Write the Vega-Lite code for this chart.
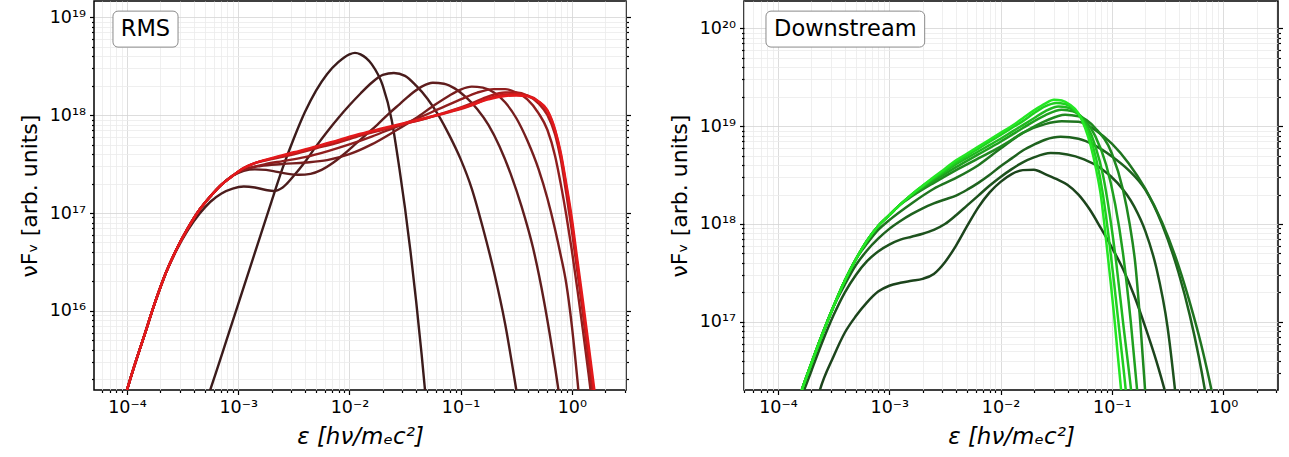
{
"$schema": "https://vega.github.io/schema/vega-lite/v6.json",
"padding": {"left": 17, "top": 0, "right": 2, "bottom": 2},
"spacing": 118,
"bounds": "flush",
"resolve": {"scale": {"color": "independent", "x": "independent", "y": "independent"}},
"config": {
  "font": "DejaVu Sans",
  "view": {"stroke": "#000000", "strokeWidth": 1.5},
  "axis": {"labelFont": "DejaVu Sans", "titleFont": "DejaVu Sans", "labelColor": "#000000", "titleColor": "#000000", "tickColor": "#000000", "domain": false, "labelFontSize": 17.5, "titleFontSize": 22, "titleFontWeight": "normal"}
},
"datasets": {
  "lab1": [{"label": "RMS"}],
  "lab2": [{"label": "Downstream"}],
  "rms": [
{"c":"C1","x":5.012e-4,"y":1.072e15},{"c":"C1","x":6.310e-4,"y":2.344e15},{"c":"C1","x":7.943e-4,"y":5.248e15},{"c":"C1","x":1e-3,"y":1.175e16},{"c":"C1","x":1.259e-3,"y":2.630e16},{"c":"C1","x":1.585e-3,"y":5.888e16},{"c":"C1","x":1.995e-3,"y":1.318e17},{"c":"C1","x":2.512e-3,"y":2.884e17},{"c":"C1","x":3.162e-3,"y":5.754e17},{"c":"C1","x":3.981e-3,"y":1.072e18},{"c":"C1","x":5.012e-3,"y":1.778e18},{"c":"C1","x":6.310e-3,"y":2.630e18},{"c":"C1","x":7.943e-3,"y":3.467e18},{"c":"C1","x":1e-2,"y":4.169e18},{"c":"C1","x":1.122e-2,"y":4.315e18},{"c":"C1","x":1.259e-2,"y":4.169e18},{"c":"C1","x":1.585e-2,"y":3.311e18},{"c":"C1","x":1.995e-2,"y":1.995e18},{"c":"C1","x":2.399e-2,"y":8.913e17},{"c":"C1","x":2.818e-2,"y":2.818e17},{"c":"C1","x":3.162e-2,"y":1.122e17},{"c":"C1","x":3.548e-2,"y":3.981e16},{"c":"C1","x":3.981e-2,"y":1.259e16},{"c":"C1","x":4.467e-2,"y":3.548e15},{"c":"C1","x":5.012e-2,"y":8.913e14},
{"c":"C2","x":8.913e-5,"y":1.0e15},{"c":"C2","x":1.122e-4,"y":2.399e15},{"c":"C2","x":1.413e-4,"y":5.370e15},{"c":"C2","x":1.778e-4,"y":1.202e16},{"c":"C2","x":2.239e-4,"y":2.455e16},{"c":"C2","x":2.818e-4,"y":4.266e16},{"c":"C2","x":3.548e-4,"y":6.761e16},{"c":"C2","x":4.467e-4,"y":9.772e16},{"c":"C2","x":5.623e-4,"y":1.303e17},{"c":"C2","x":7.079e-4,"y":1.585e17},{"c":"C2","x":8.913e-4,"y":1.778e17},{"c":"C2","x":1.122e-3,"y":1.862e17},{"c":"C2","x":1.413e-3,"y":1.820e17},{"c":"C2","x":1.778e-3,"y":1.718e17},{"c":"C2","x":2.089e-3,"y":1.679e17},{"c":"C2","x":2.512e-3,"y":1.820e17},{"c":"C2","x":3.162e-3,"y":2.399e17},{"c":"C2","x":3.981e-3,"y":3.311e17},{"c":"C2","x":5.012e-3,"y":4.786e17},{"c":"C2","x":6.310e-3,"y":6.761e17},{"c":"C2","x":7.943e-3,"y":9.333e17},{"c":"C2","x":1e-2,"y":1.259e18},{"c":"C2","x":1.259e-2,"y":1.660e18},{"c":"C2","x":1.585e-2,"y":2.138e18},{"c":"C2","x":1.995e-2,"y":2.570e18},{"c":"C2","x":2.512e-2,"y":2.692e18},{"c":"C2","x":3.162e-2,"y":2.512e18},{"c":"C2","x":3.981e-2,"y":1.995e18},{"c":"C2","x":5.012e-2,"y":1.479e18},{"c":"C2","x":6.310e-2,"y":1e18},{"c":"C2","x":7.943e-2,"y":6.166e17},{"c":"C2","x":0.1,"y":3.548e17},{"c":"C2","x":0.1259,"y":1.778e17},{"c":"C2","x":0.1585,"y":7.079e16},{"c":"C2","x":0.1995,"y":2.512e16},{"c":"C2","x":0.2512,"y":7.413e15},{"c":"C2","x":0.3162,"y":1.585e15},{"c":"C2","x":0.3548,"y":7.079e14},
{"c":"C3","x":8.913e-5,"y":1.0e15},{"c":"C3","x":1.122e-4,"y":2.399e15},{"c":"C3","x":1.413e-4,"y":5.370e15},{"c":"C3","x":1.778e-4,"y":1.202e16},{"c":"C3","x":2.239e-4,"y":2.455e16},{"c":"C3","x":2.818e-4,"y":4.365e16},{"c":"C3","x":3.548e-4,"y":7.079e16},{"c":"C3","x":4.467e-4,"y":1.072e17},{"c":"C3","x":5.623e-4,"y":1.479e17},{"c":"C3","x":7.079e-4,"y":1.950e17},{"c":"C3","x":8.913e-4,"y":2.399e17},{"c":"C3","x":1.122e-3,"y":2.692e17},{"c":"C3","x":1.413e-3,"y":2.786e17},{"c":"C3","x":1.778e-3,"y":2.754e17},{"c":"C3","x":2.239e-3,"y":2.630e17},{"c":"C3","x":2.818e-3,"y":2.512e17},{"c":"C3","x":3.548e-3,"y":2.455e17},{"c":"C3","x":4.467e-3,"y":2.512e17},{"c":"C3","x":5.623e-3,"y":2.754e17},{"c":"C3","x":7.079e-3,"y":3.236e17},{"c":"C3","x":8.913e-3,"y":3.981e17},{"c":"C3","x":1.122e-2,"y":5.012e17},{"c":"C3","x":1.413e-2,"y":6.310e17},{"c":"C3","x":1.778e-2,"y":7.943e17},{"c":"C3","x":2.239e-2,"y":1.023e18},{"c":"C3","x":2.818e-2,"y":1.288e18},{"c":"C3","x":3.548e-2,"y":1.622e18},{"c":"C3","x":4.467e-2,"y":1.950e18},{"c":"C3","x":5.623e-2,"y":2.138e18},{"c":"C3","x":7.079e-2,"y":2.089e18},{"c":"C3","x":8.913e-2,"y":1.862e18},{"c":"C3","x":0.1122,"y":1.514e18},{"c":"C3","x":0.1413,"y":1.148e18},{"c":"C3","x":0.1778,"y":7.943e17},{"c":"C3","x":0.2239,"y":4.786e17},{"c":"C3","x":0.2818,"y":2.512e17},{"c":"C3","x":0.3548,"y":1.148e17},{"c":"C3","x":0.4467,"y":4.467e16},{"c":"C3","x":0.5623,"y":1.259e16},{"c":"C3","x":0.7079,"y":2.630e15},{"c":"C3","x":0.7943,"y":1.096e15},
{"c":"C4","x":8.913e-5,"y":1.0e15},{"c":"C4","x":1.122e-4,"y":2.399e15},{"c":"C4","x":1.413e-4,"y":5.370e15},{"c":"C4","x":1.778e-4,"y":1.202e16},{"c":"C4","x":2.239e-4,"y":2.455e16},{"c":"C4","x":2.818e-4,"y":4.365e16},{"c":"C4","x":3.548e-4,"y":7.079e16},{"c":"C4","x":4.467e-4,"y":1.072e17},{"c":"C4","x":5.623e-4,"y":1.479e17},{"c":"C4","x":7.079e-4,"y":1.950e17},{"c":"C4","x":8.913e-4,"y":2.399e17},{"c":"C4","x":1.122e-3,"y":2.754e17},{"c":"C4","x":1.585e-3,"y":3.020e17},{"c":"C4","x":2.512e-3,"y":3.162e17},{"c":"C4","x":3.981e-3,"y":3.273e17},{"c":"C4","x":6.310e-3,"y":3.467e17},{"c":"C4","x":1e-2,"y":3.981e17},{"c":"C4","x":1.585e-2,"y":5.012e17},{"c":"C4","x":2.512e-2,"y":6.761e17},{"c":"C4","x":3.981e-2,"y":9.333e17},{"c":"C4","x":5.623e-2,"y":1.230e18},{"c":"C4","x":7.943e-2,"y":1.585e18},{"c":"C4","x":0.1,"y":1.820e18},{"c":"C4","x":0.1259,"y":1.950e18},{"c":"C4","x":0.1585,"y":1.905e18},{"c":"C4","x":0.1995,"y":1.698e18},{"c":"C4","x":0.2512,"y":1.349e18},{"c":"C4","x":0.3162,"y":9.333e17},{"c":"C4","x":0.3981,"y":5.495e17},{"c":"C4","x":0.5012,"y":2.818e17},{"c":"C4","x":0.6026,"y":1.413e17},{"c":"C4","x":0.7079,"y":6.761e16},{"c":"C4","x":0.7943,"y":3.715e16},{"c":"C4","x":0.8913,"y":1.905e16},{"c":"C4","x":1,"y":7.079e15},{"c":"C4","x":1.122,"y":1.995e15},{"c":"C4","x":1.259,"y":5.012e14},
{"c":"C5","x":8.913e-5,"y":1.0e15},{"c":"C5","x":1.122e-4,"y":2.399e15},{"c":"C5","x":1.413e-4,"y":5.370e15},{"c":"C5","x":1.778e-4,"y":1.202e16},{"c":"C5","x":2.239e-4,"y":2.455e16},{"c":"C5","x":2.818e-4,"y":4.365e16},{"c":"C5","x":3.548e-4,"y":7.079e16},{"c":"C5","x":4.467e-4,"y":1.072e17},{"c":"C5","x":5.623e-4,"y":1.479e17},{"c":"C5","x":7.079e-4,"y":1.950e17},{"c":"C5","x":8.913e-4,"y":2.399e17},{"c":"C5","x":1e-3,"y":2.630e17},{"c":"C5","x":1.259e-3,"y":2.884e17},{"c":"C5","x":1.778e-3,"y":3.162e17},{"c":"C5","x":2.512e-3,"y":3.388e17},{"c":"C5","x":3.981e-3,"y":3.715e17},{"c":"C5","x":6.310e-3,"y":4.266e17},{"c":"C5","x":1e-2,"y":5.012e17},{"c":"C5","x":1.585e-2,"y":6.026e17},{"c":"C5","x":2.512e-2,"y":7.413e17},{"c":"C5","x":3.981e-2,"y":9.120e17},{"c":"C5","x":6.310e-2,"y":1.148e18},{"c":"C5","x":0.1,"y":1.445e18},{"c":"C5","x":0.1413,"y":1.698e18},{"c":"C5","x":0.1995,"y":1.841e18},{"c":"C5","x":0.2512,"y":1.841e18},{"c":"C5","x":0.3162,"y":1.698e18},{"c":"C5","x":0.3981,"y":1.445e18},{"c":"C5","x":0.5012,"y":1.047e18},{"c":"C5","x":0.6026,"y":7.079e17},{"c":"C5","x":0.7079,"y":3.802e17},{"c":"C5","x":0.7943,"y":1.995e17},{"c":"C5","x":0.8913,"y":9.550e16},{"c":"C5","x":1,"y":4.169e16},{"c":"C5","x":1.122,"y":1.660e16},{"c":"C5","x":1.259,"y":6.310e15},{"c":"C5","x":1.413,"y":2.291e15},{"c":"C5","x":1.585,"y":7.943e14},
{"c":"C6","x":8.913e-5,"y":1.0e15},{"c":"C6","x":1.122e-4,"y":2.399e15},{"c":"C6","x":1.413e-4,"y":5.370e15},{"c":"C6","x":1.778e-4,"y":1.202e16},{"c":"C6","x":2.239e-4,"y":2.455e16},{"c":"C6","x":2.818e-4,"y":4.365e16},{"c":"C6","x":3.548e-4,"y":7.079e16},{"c":"C6","x":4.467e-4,"y":1.072e17},{"c":"C6","x":5.623e-4,"y":1.479e17},{"c":"C6","x":7.079e-4,"y":1.950e17},{"c":"C6","x":8.913e-4,"y":2.399e17},{"c":"C6","x":1.122e-3,"y":2.884e17},{"c":"C6","x":1.413e-3,"y":3.236e17},{"c":"C6","x":1.995e-3,"y":3.548e17},{"c":"C6","x":3.162e-3,"y":3.981e17},{"c":"C6","x":5.012e-3,"y":4.571e17},{"c":"C6","x":7.943e-3,"y":5.248e17},{"c":"C6","x":1.259e-2,"y":6.166e17},{"c":"C6","x":1.995e-2,"y":7.079e17},{"c":"C6","x":3.162e-2,"y":8.128e17},{"c":"C6","x":5.012e-2,"y":9.333e17},{"c":"C6","x":7.943e-2,"y":1.096e18},{"c":"C6","x":0.1259,"y":1.318e18},{"c":"C6","x":0.1778,"y":1.549e18},{"c":"C6","x":0.2512,"y":1.698e18},{"c":"C6","x":0.3162,"y":1.698e18},{"c":"C6","x":0.3981,"y":1.585e18},{"c":"C6","x":0.5012,"y":1.318e18},{"c":"C6","x":0.6026,"y":1e18},{"c":"C6","x":0.7079,"y":6.310e17},{"c":"C6","x":0.7943,"y":3.548e17},{"c":"C6","x":0.8913,"y":1.585e17},{"c":"C6","x":1,"y":6.607e16},{"c":"C6","x":1.122,"y":2.512e16},{"c":"C6","x":1.259,"y":9.333e15},{"c":"C6","x":1.413,"y":3.162e15},{"c":"C6","x":1.585,"y":1.122e15},
{"c":"C7","x":8.913e-5,"y":1.0e15},{"c":"C7","x":1.122e-4,"y":2.399e15},{"c":"C7","x":1.413e-4,"y":5.370e15},{"c":"C7","x":1.778e-4,"y":1.202e16},{"c":"C7","x":2.239e-4,"y":2.455e16},{"c":"C7","x":2.818e-4,"y":4.365e16},{"c":"C7","x":3.548e-4,"y":7.079e16},{"c":"C7","x":4.467e-4,"y":1.072e17},{"c":"C7","x":5.623e-4,"y":1.479e17},{"c":"C7","x":7.079e-4,"y":1.950e17},{"c":"C7","x":8.913e-4,"y":2.399e17},{"c":"C7","x":1.122e-3,"y":2.884e17},{"c":"C7","x":1.413e-3,"y":3.236e17},{"c":"C7","x":1.995e-3,"y":3.589e17},{"c":"C7","x":3.162e-3,"y":4.074e17},{"c":"C7","x":5.012e-3,"y":4.677e17},{"c":"C7","x":7.943e-3,"y":5.433e17},{"c":"C7","x":1.259e-2,"y":6.310e17},{"c":"C7","x":1.995e-2,"y":7.161e17},{"c":"C7","x":3.162e-2,"y":8.128e17},{"c":"C7","x":5.012e-2,"y":9.333e17},{"c":"C7","x":7.943e-2,"y":1.072e18},{"c":"C7","x":0.1259,"y":1.259e18},{"c":"C7","x":0.1778,"y":1.479e18},{"c":"C7","x":0.2512,"y":1.622e18},{"c":"C7","x":0.3162,"y":1.641e18},{"c":"C7","x":0.3981,"y":1.585e18},{"c":"C7","x":0.5012,"y":1.380e18},{"c":"C7","x":0.6026,"y":1.096e18},{"c":"C7","x":0.7079,"y":6.918e17},{"c":"C7","x":0.7943,"y":3.981e17},{"c":"C7","x":0.8913,"y":1.862e17},{"c":"C7","x":1,"y":7.943e16},{"c":"C7","x":1.122,"y":2.951e16},{"c":"C7","x":1.259,"y":1.096e16},{"c":"C7","x":1.413,"y":3.981e15},{"c":"C7","x":1.585,"y":1.413e15},{"c":"C7","x":1.778,"y":4.5e14},
{"c":"C8","x":8.913e-5,"y":1.0e15},{"c":"C8","x":1.122e-4,"y":2.399e15},{"c":"C8","x":1.413e-4,"y":5.370e15},{"c":"C8","x":1.778e-4,"y":1.202e16},{"c":"C8","x":2.239e-4,"y":2.455e16},{"c":"C8","x":2.818e-4,"y":4.365e16},{"c":"C8","x":3.548e-4,"y":7.079e16},{"c":"C8","x":4.467e-4,"y":1.072e17},{"c":"C8","x":5.623e-4,"y":1.479e17},{"c":"C8","x":7.079e-4,"y":1.950e17},{"c":"C8","x":8.913e-4,"y":2.399e17},{"c":"C8","x":1.122e-3,"y":2.884e17},{"c":"C8","x":1.413e-3,"y":3.236e17},{"c":"C8","x":1.995e-3,"y":3.631e17},{"c":"C8","x":3.162e-3,"y":4.169e17},{"c":"C8","x":5.012e-3,"y":4.786e17},{"c":"C8","x":7.943e-3,"y":5.559e17},{"c":"C8","x":1.259e-2,"y":6.457e17},{"c":"C8","x":1.995e-2,"y":7.328e17},{"c":"C8","x":3.162e-2,"y":8.318e17},{"c":"C8","x":5.012e-2,"y":9.441e17},{"c":"C8","x":7.943e-2,"y":1.084e18},{"c":"C8","x":0.1259,"y":1.274e18},{"c":"C8","x":0.1778,"y":1.445e18},{"c":"C8","x":0.2512,"y":1.567e18},{"c":"C8","x":0.3162,"y":1.585e18},{"c":"C8","x":0.3981,"y":1.549e18},{"c":"C8","x":0.5012,"y":1.380e18},{"c":"C8","x":0.6026,"y":1.122e18},{"c":"C8","x":0.7079,"y":7.079e17},{"c":"C8","x":0.7943,"y":4.169e17},{"c":"C8","x":0.8913,"y":1.995e17},{"c":"C8","x":1,"y":8.913e16},{"c":"C8","x":1.122,"y":3.311e16},{"c":"C8","x":1.259,"y":1.259e16},{"c":"C8","x":1.413,"y":4.571e15},{"c":"C8","x":1.585,"y":1.660e15},{"c":"C8","x":1.778,"y":6.310e14}
  ],
  "down": [
{"c":"G1","x":1.995e-4,"y":8.913e15},{"c":"G1","x":2.344e-4,"y":1.905e16},{"c":"G1","x":3.162e-4,"y":4.467e16},{"c":"G1","x":3.981e-4,"y":7.762e16},{"c":"G1","x":5.012e-4,"y":1.148e17},{"c":"G1","x":6.310e-4,"y":1.585e17},{"c":"G1","x":7.943e-4,"y":2.042e17},{"c":"G1","x":1e-3,"y":2.344e17},{"c":"G1","x":1.259e-3,"y":2.512e17},{"c":"G1","x":1.585e-3,"y":2.630e17},{"c":"G1","x":1.995e-3,"y":2.754e17},{"c":"G1","x":2.512e-3,"y":3.090e17},{"c":"G1","x":3.162e-3,"y":4.074e17},{"c":"G1","x":3.981e-3,"y":6.026e17},{"c":"G1","x":5.012e-3,"y":9.550e17},{"c":"G1","x":6.310e-3,"y":1.479e18},{"c":"G1","x":7.943e-3,"y":2.089e18},{"c":"G1","x":1e-2,"y":2.692e18},{"c":"G1","x":1.259e-2,"y":3.236e18},{"c":"G1","x":1.585e-2,"y":3.548e18},{"c":"G1","x":1.995e-2,"y":3.589e18},{"c":"G1","x":2.512e-2,"y":3.236e18},{"c":"G1","x":3.162e-2,"y":2.884e18},{"c":"G1","x":3.981e-2,"y":2.512e18},{"c":"G1","x":5.012e-2,"y":1.995e18},{"c":"G1","x":6.310e-2,"y":1.413e18},{"c":"G1","x":7.943e-2,"y":9.120e17},{"c":"G1","x":0.1,"y":5.754e17},{"c":"G1","x":0.1259,"y":3.467e17},{"c":"G1","x":0.1585,"y":1.862e17},{"c":"G1","x":0.1995,"y":8.913e16},{"c":"G1","x":0.2512,"y":3.981e16},{"c":"G1","x":0.3020,"y":1.905e16},{"c":"G1","x":0.3311,"y":1.259e16},
{"c":"G2","x":1.585e-4,"y":1.585e16},{"c":"G2","x":1.995e-4,"y":3.162e16},{"c":"G2","x":2.512e-4,"y":6.310e16},{"c":"G2","x":3.162e-4,"y":1.175e17},{"c":"G2","x":3.981e-4,"y":1.995e17},{"c":"G2","x":5.012e-4,"y":3.020e17},{"c":"G2","x":6.310e-4,"y":4.169e17},{"c":"G2","x":7.943e-4,"y":5.248e17},{"c":"G2","x":1e-3,"y":6.166e17},{"c":"G2","x":1.259e-3,"y":6.918e17},{"c":"G2","x":1.585e-3,"y":7.413e17},{"c":"G2","x":1.995e-3,"y":7.943e17},{"c":"G2","x":2.512e-3,"y":8.710e17},{"c":"G2","x":3.162e-3,"y":1e18},{"c":"G2","x":3.981e-3,"y":1.230e18},{"c":"G2","x":5.012e-3,"y":1.549e18},{"c":"G2","x":6.310e-3,"y":1.950e18},{"c":"G2","x":7.943e-3,"y":2.455e18},{"c":"G2","x":1e-2,"y":3.020e18},{"c":"G2","x":1.259e-2,"y":3.631e18},{"c":"G2","x":1.585e-2,"y":4.266e18},{"c":"G2","x":1.995e-2,"y":4.786e18},{"c":"G2","x":2.818e-2,"y":5.297e18},{"c":"G2","x":3.981e-2,"y":5.129e18},{"c":"G2","x":5.623e-2,"y":4.571e18},{"c":"G2","x":7.943e-2,"y":3.715e18},{"c":"G2","x":0.1122,"y":2.630e18},{"c":"G2","x":0.1585,"y":1.514e18},{"c":"G2","x":0.1995,"y":8.511e17},{"c":"G2","x":0.2512,"y":3.548e17},{"c":"G2","x":0.3162,"y":8.913e16},{"c":"G2","x":0.3715,"y":1.905e16},{"c":"G2","x":0.3981,"y":8.913e15},
{"c":"G3","x":1.413e-4,"y":1.259e16},{"c":"G3","x":1.778e-4,"y":2.630e16},{"c":"G3","x":2.512e-4,"y":7.586e16},{"c":"G3","x":3.162e-4,"y":1.445e17},{"c":"G3","x":3.981e-4,"y":2.399e17},{"c":"G3","x":5.012e-4,"y":3.802e17},{"c":"G3","x":6.310e-4,"y":5.370e17},{"c":"G3","x":7.943e-4,"y":7.079e17},{"c":"G3","x":1e-3,"y":8.913e17},{"c":"G3","x":1.259e-3,"y":1.072e18},{"c":"G3","x":1.585e-3,"y":1.259e18},{"c":"G3","x":1.995e-3,"y":1.445e18},{"c":"G3","x":2.512e-3,"y":1.622e18},{"c":"G3","x":3.162e-3,"y":1.778e18},{"c":"G3","x":3.981e-3,"y":1.950e18},{"c":"G3","x":5.012e-3,"y":2.239e18},{"c":"G3","x":6.310e-3,"y":2.630e18},{"c":"G3","x":7.943e-3,"y":3.162e18},{"c":"G3","x":1e-2,"y":3.890e18},{"c":"G3","x":1.259e-2,"y":4.677e18},{"c":"G3","x":1.585e-2,"y":5.623e18},{"c":"G3","x":1.995e-2,"y":6.457e18},{"c":"G3","x":2.512e-2,"y":7.244e18},{"c":"G3","x":3.467e-2,"y":7.762e18},{"c":"G3","x":5.012e-2,"y":7.413e18},{"c":"G3","x":7.079e-2,"y":6.310e18},{"c":"G3","x":0.1,"y":4.898e18},{"c":"G3","x":0.1413,"y":3.548e18},{"c":"G3","x":0.1995,"y":2.239e18},{"c":"G3","x":0.2818,"y":1e18},{"c":"G3","x":0.3981,"y":3.162e17},{"c":"G3","x":0.5012,"y":1.175e17},{"c":"G3","x":0.6026,"y":4.467e16},{"c":"G3","x":0.6918,"y":1.905e16},{"c":"G3","x":0.7586,"y":1e16},
{"c":"G4","x":1.413e-4,"y":1.259e16},{"c":"G4","x":1.778e-4,"y":2.630e16},{"c":"G4","x":2.512e-4,"y":7.586e16},{"c":"G4","x":3.162e-4,"y":1.445e17},{"c":"G4","x":3.981e-4,"y":2.630e17},{"c":"G4","x":5.012e-4,"y":4.365e17},{"c":"G4","x":6.310e-4,"y":6.310e17},{"c":"G4","x":7.943e-4,"y":8.710e17},{"c":"G4","x":1e-3,"y":1.096e18},{"c":"G4","x":1.585e-3,"y":1.622e18},{"c":"G4","x":2.512e-3,"y":2.291e18},{"c":"G4","x":3.981e-3,"y":2.951e18},{"c":"G4","x":6.310e-3,"y":3.981e18},{"c":"G4","x":1e-2,"y":5.888e18},{"c":"G4","x":1.585e-2,"y":8.511e18},{"c":"G4","x":2.512e-2,"y":1.047e19},{"c":"G4","x":3.548e-2,"y":1.117e19},{"c":"G4","x":5.012e-2,"y":1.109e19},{"c":"G4","x":7.079e-2,"y":9.120e18},{"c":"G4","x":0.1,"y":6.607e18},{"c":"G4","x":0.1413,"y":4.169e18},{"c":"G4","x":0.1995,"y":2.291e18},{"c":"G4","x":0.2818,"y":1.047e18},{"c":"G4","x":0.3981,"y":3.715e17},{"c":"G4","x":0.5012,"y":1.585e17},{"c":"G4","x":0.6310,"y":6.026e16},{"c":"G4","x":0.7943,"y":1.905e16},{"c":"G4","x":0.8913,"y":1e16},
{"c":"G5","x":1.259e-4,"y":8.913e15},{"c":"G5","x":1.413e-4,"y":1.259e16},{"c":"G5","x":1.778e-4,"y":2.630e16},{"c":"G5","x":2.512e-4,"y":7.586e16},{"c":"G5","x":3.162e-4,"y":1.445e17},{"c":"G5","x":3.981e-4,"y":2.630e17},{"c":"G5","x":5.012e-4,"y":4.365e17},{"c":"G5","x":6.310e-4,"y":6.761e17},{"c":"G5","x":7.943e-4,"y":9.550e17},{"c":"G5","x":1e-3,"y":1.230e18},{"c":"G5","x":1.259e-3,"y":1.585e18},{"c":"G5","x":1.585e-3,"y":1.905e18},{"c":"G5","x":2.512e-3,"y":2.630e18},{"c":"G5","x":3.981e-3,"y":3.548e18},{"c":"G5","x":6.310e-3,"y":4.677e18},{"c":"G5","x":1e-2,"y":6.166e18},{"c":"G5","x":1.585e-2,"y":8.511e18},{"c":"G5","x":2.512e-2,"y":1.122e19},{"c":"G5","x":3.802e-2,"y":1.306e19},{"c":"G5","x":5.012e-2,"y":1.259e19},{"c":"G5","x":7.079e-2,"y":9.550e18},{"c":"G5","x":0.1,"y":5.248e18},{"c":"G5","x":0.1259,"y":2.239e18},{"c":"G5","x":0.1445,"y":1e18},{"c":"G5","x":0.1622,"y":3.981e17},{"c":"G5","x":0.1799,"y":1e17},{"c":"G5","x":0.1995,"y":1.905e16},{"c":"G5","x":0.2089,"y":8.913e15},
{"c":"G6","x":1.259e-4,"y":8.913e15},{"c":"G6","x":1.413e-4,"y":1.259e16},{"c":"G6","x":1.778e-4,"y":2.630e16},{"c":"G6","x":2.512e-4,"y":7.586e16},{"c":"G6","x":3.162e-4,"y":1.445e17},{"c":"G6","x":3.981e-4,"y":2.630e17},{"c":"G6","x":5.012e-4,"y":4.365e17},{"c":"G6","x":6.310e-4,"y":6.761e17},{"c":"G6","x":7.943e-4,"y":9.550e17},{"c":"G6","x":1e-3,"y":1.230e18},{"c":"G6","x":1.259e-3,"y":1.585e18},{"c":"G6","x":1.778e-3,"y":2.138e18},{"c":"G6","x":2.512e-3,"y":2.754e18},{"c":"G6","x":3.981e-3,"y":3.802e18},{"c":"G6","x":6.310e-3,"y":5.129e18},{"c":"G6","x":1e-2,"y":6.918e18},{"c":"G6","x":1.585e-2,"y":9.550e18},{"c":"G6","x":2.512e-2,"y":1.288e19},{"c":"G6","x":3.548e-2,"y":1.466e19},{"c":"G6","x":4.467e-2,"y":1.413e19},{"c":"G6","x":5.623e-2,"y":1.175e19},{"c":"G6","x":7.079e-2,"y":7.943e18},{"c":"G6","x":8.913e-2,"y":3.981e18},{"c":"G6","x":0.1072,"y":1.585e18},{"c":"G6","x":0.1259,"y":5.012e17},{"c":"G6","x":0.1479,"y":1e17},{"c":"G6","x":0.1694,"y":1.905e16},{"c":"G6","x":0.1778,"y":1e16},
{"c":"G7","x":1.259e-4,"y":8.913e15},{"c":"G7","x":1.413e-4,"y":1.259e16},{"c":"G7","x":1.778e-4,"y":2.630e16},{"c":"G7","x":2.512e-4,"y":7.586e16},{"c":"G7","x":3.162e-4,"y":1.445e17},{"c":"G7","x":3.981e-4,"y":2.630e17},{"c":"G7","x":5.012e-4,"y":4.365e17},{"c":"G7","x":6.310e-4,"y":6.761e17},{"c":"G7","x":7.943e-4,"y":9.550e17},{"c":"G7","x":1e-3,"y":1.230e18},{"c":"G7","x":1.259e-3,"y":1.585e18},{"c":"G7","x":1.585e-3,"y":1.995e18},{"c":"G7","x":1.995e-3,"y":2.399e18},{"c":"G7","x":2.512e-3,"y":2.884e18},{"c":"G7","x":3.162e-3,"y":3.428e18},{"c":"G7","x":3.981e-3,"y":4.074e18},{"c":"G7","x":5.012e-3,"y":4.732e18},{"c":"G7","x":6.310e-3,"y":5.495e18},{"c":"G7","x":7.943e-3,"y":6.383e18},{"c":"G7","x":1e-2,"y":7.413e18},{"c":"G7","x":1.259e-2,"y":8.710e18},{"c":"G7","x":1.585e-2,"y":1.023e19},{"c":"G7","x":1.995e-2,"y":1.202e19},{"c":"G7","x":2.512e-2,"y":1.413e19},{"c":"G7","x":3.311e-2,"y":1.585e19},{"c":"G7","x":3.981e-2,"y":1.549e19},{"c":"G7","x":5.012e-2,"y":1.318e19},{"c":"G7","x":6.026e-2,"y":1e19},{"c":"G7","x":7.079e-2,"y":6.310e18},{"c":"G7","x":8.318e-2,"y":3.162e18},{"c":"G7","x":9.550e-2,"y":1.259e18},{"c":"G7","x":0.1096,"y":3.981e17},{"c":"G7","x":0.1259,"y":1e17},{"c":"G7","x":0.1496,"y":1.905e16},{"c":"G7","x":0.1585,"y":1e16},
{"c":"G8","x":1.259e-4,"y":8.913e15},{"c":"G8","x":1.413e-4,"y":1.259e16},{"c":"G8","x":1.778e-4,"y":2.630e16},{"c":"G8","x":2.512e-4,"y":7.586e16},{"c":"G8","x":3.162e-4,"y":1.445e17},{"c":"G8","x":3.981e-4,"y":2.630e17},{"c":"G8","x":5.012e-4,"y":4.365e17},{"c":"G8","x":6.310e-4,"y":6.761e17},{"c":"G8","x":7.943e-4,"y":9.550e17},{"c":"G8","x":1e-3,"y":1.230e18},{"c":"G8","x":1.259e-3,"y":1.585e18},{"c":"G8","x":1.585e-3,"y":1.995e18},{"c":"G8","x":1.995e-3,"y":2.455e18},{"c":"G8","x":2.512e-3,"y":2.951e18},{"c":"G8","x":3.162e-3,"y":3.548e18},{"c":"G8","x":3.981e-3,"y":4.266e18},{"c":"G8","x":5.012e-3,"y":5.012e18},{"c":"G8","x":6.310e-3,"y":5.888e18},{"c":"G8","x":7.943e-3,"y":6.918e18},{"c":"G8","x":1e-2,"y":8.128e18},{"c":"G8","x":1.259e-2,"y":9.550e18},{"c":"G8","x":1.585e-2,"y":1.122e19},{"c":"G8","x":1.995e-2,"y":1.349e19},{"c":"G8","x":2.512e-2,"y":1.585e19},{"c":"G8","x":3.162e-2,"y":1.718e19},{"c":"G8","x":3.802e-2,"y":1.679e19},{"c":"G8","x":4.571e-2,"y":1.479e19},{"c":"G8","x":5.370e-2,"y":1.175e19},{"c":"G8","x":6.310e-2,"y":7.943e18},{"c":"G8","x":7.244e-2,"y":4.571e18},{"c":"G8","x":8.318e-2,"y":1.995e18},{"c":"G8","x":9.333e-2,"y":7.586e17},{"c":"G8","x":0.1047,"y":2.512e17},{"c":"G8","x":0.1175,"y":7.586e16},{"c":"G8","x":0.1340,"y":1.905e16},{"c":"G8","x":0.1413,"y":1e16},
{"c":"G9","x":1.259e-4,"y":8.913e15},{"c":"G9","x":1.413e-4,"y":1.259e16},{"c":"G9","x":1.778e-4,"y":2.630e16},{"c":"G9","x":2.512e-4,"y":7.586e16},{"c":"G9","x":3.162e-4,"y":1.445e17},{"c":"G9","x":3.981e-4,"y":2.630e17},{"c":"G9","x":5.012e-4,"y":4.365e17},{"c":"G9","x":6.310e-4,"y":6.761e17},{"c":"G9","x":7.943e-4,"y":9.550e17},{"c":"G9","x":1e-3,"y":1.230e18},{"c":"G9","x":1.259e-3,"y":1.585e18},{"c":"G9","x":1.585e-3,"y":1.995e18},{"c":"G9","x":1.995e-3,"y":2.455e18},{"c":"G9","x":2.512e-3,"y":3.020e18},{"c":"G9","x":3.162e-3,"y":3.673e18},{"c":"G9","x":3.981e-3,"y":4.467e18},{"c":"G9","x":5.012e-3,"y":5.248e18},{"c":"G9","x":6.310e-3,"y":6.166e18},{"c":"G9","x":7.943e-3,"y":7.244e18},{"c":"G9","x":1e-2,"y":8.511e18},{"c":"G9","x":1.259e-2,"y":1e19},{"c":"G9","x":1.585e-2,"y":1.202e19},{"c":"G9","x":1.995e-2,"y":1.445e19},{"c":"G9","x":2.512e-2,"y":1.698e19},{"c":"G9","x":3.020e-2,"y":1.854e19},{"c":"G9","x":3.548e-2,"y":1.820e19},{"c":"G9","x":4.169e-2,"y":1.660e19},{"c":"G9","x":5.012e-2,"y":1.349e19},{"c":"G9","x":5.754e-2,"y":9.550e18},{"c":"G9","x":6.457e-2,"y":6.310e18},{"c":"G9","x":7.244e-2,"y":3.548e18},{"c":"G9","x":7.943e-2,"y":1.995e18},{"c":"G9","x":8.710e-2,"y":8.318e17},{"c":"G9","x":9.550e-2,"y":3.162e17},{"c":"G9","x":0.1047,"y":1.175e17},{"c":"G9","x":0.1122,"y":5.012e16},{"c":"G9","x":0.1216,"y":1.905e16},{"c":"G9","x":0.1288,"y":8.913e15}
  ]
},
"hconcat": [
  {
    "width": 532, "height": 389,
    "resolve": {"axis": {"x": "independent", "y": "independent"}},
    "layer": [
      {
        "data": {"name": "rms"},
        "mark": {"type": "line", "strokeWidth": 2.4, "clip": true, "interpolate": "monotone"},
        "encoding": {
          "x": {"field": "x", "type": "quantitative", "scale": {"type": "log", "domain": [5.05e-5, 3.07], "nice": false},
            "axis": {"orient": "bottom", "values": [5e-5,6e-5,7e-5,8e-5,9e-5,1e-4,2e-4,3e-4,4e-4,5e-4,6e-4,7e-4,8e-4,9e-4,1e-3,2e-3,3e-3,4e-3,5e-3,6e-3,7e-3,8e-3,9e-3,0.01,0.02,0.03,0.04,0.05,0.06,0.07,0.08,0.09,0.1,0.2,0.3,0.4,0.5,0.6,0.7,0.8,0.9,1,2,3],
              "labelExpr": "abs(log(datum.value)/LN10+4)<0.01?'10⁻⁴':abs(log(datum.value)/LN10+3)<0.01?'10⁻³':abs(log(datum.value)/LN10+2)<0.01?'10⁻²':abs(log(datum.value)/LN10+1)<0.01?'10⁻¹':abs(log(datum.value)/LN10)<0.01?'10⁰':''",
              "title": "ε [hν/mₑc²]", "titleFontStyle": "italic", "titleFontSize": 23, "titlePadding": 9,
              "grid": true, "gridColor": {"condition": {"test": "abs(log(datum.value)/LN10-round(log(datum.value)/LN10))<0.001", "value": "#d4d4d4"}, "value": "#ebebeb"}, "gridWidth": 0.8,
              "tickSize": {"condition": {"test": "abs(log(datum.value)/LN10-round(log(datum.value)/LN10))<0.001", "value": 4.5}, "value": 2.5},
              "tickWidth": 1.2, "labelOverlap": false, "labelFlush": false, "labelPadding": 4}},
          "y": {"field": "y", "type": "quantitative", "scale": {"type": "log", "domain": [1.56e15, 1.46e19], "nice": false},
            "axis": {"orient": "left", "values": [2e15,3e15,4e15,5e15,6e15,7e15,8e15,9e15,1e16,2e16,3e16,4e16,5e16,6e16,7e16,8e16,9e16,1e17,2e17,3e17,4e17,5e17,6e17,7e17,8e17,9e17,1e18,2e18,3e18,4e18,5e18,6e18,7e18,8e18,9e18,1e19],
              "labelExpr": "abs(log(datum.value)/LN10-16)<0.01?'10¹⁶':abs(log(datum.value)/LN10-17)<0.01?'10¹⁷':abs(log(datum.value)/LN10-18)<0.01?'10¹⁸':abs(log(datum.value)/LN10-19)<0.01?'10¹⁹':abs(log(datum.value)/LN10-20)<0.01?'10²⁰':''",
              "title": "νFᵥ [arb. units]", "titlePadding": 8,
              "grid": true, "gridColor": {"condition": {"test": "abs(log(datum.value)/LN10-round(log(datum.value)/LN10))<0.001", "value": "#d4d4d4"}, "value": "#ebebeb"}, "gridWidth": 0.8,
              "tickSize": {"condition": {"test": "abs(log(datum.value)/LN10-round(log(datum.value)/LN10))<0.001", "value": 4.5}, "value": 2.5},
              "tickWidth": 1.2, "labelOverlap": false, "labelFlush": false, "labelPadding": 4}},
          "color": {"field": "c", "type": "nominal", "legend": null,
            "scale": {"domain": ["C1","C2","C3","C4","C5","C6","C7","C8"], "range": ["#3b1b1b","#4b1c1c","#5f1d1d","#761e1e","#8f1e1e","#ac1d1d","#c91b1b","#e4191c"]}}
        }
      },
      {
        "data": {"name": "rms"},
        "mark": {"type": "point", "opacity": 0},
        "encoding": {
          "x": {"field": "x", "type": "quantitative", "scale": {"type": "log", "domain": [5.05e-5, 3.07], "nice": false}, "axis": null},
          "y": {"field": "y", "type": "quantitative", "scale": {"type": "log", "domain": [1.56e15, 1.46e19], "nice": false},
            "axis": {"orient": "right", "values": [2e15,3e15,4e15,5e15,6e15,7e15,8e15,9e15,1e16,2e16,3e16,4e16,5e16,6e16,7e16,8e16,9e16,1e17,2e17,3e17,4e17,5e17,6e17,7e17,8e17,9e17,1e18,2e18,3e18,4e18,5e18,6e18,7e18,8e18,9e18,1e19],
              "labels": false, "title": null, "grid": false,
              "tickSize": {"condition": {"test": "abs(log(datum.value)/LN10-round(log(datum.value)/LN10))<0.001", "value": 4.5}, "value": 2.5},
              "tickWidth": 1.2}}
        }
      },
      {
        "data": {"name": "lab1"},
        "mark": {"type": "rect", "fill": "#ffffff", "stroke": "#8a8a8a", "strokeWidth": 1, "cornerRadius": 5},
        "encoding": {
          "x": {"datum": 7.48e-5, "type": "quantitative", "scale": {"type": "log", "domain": [5.05e-5, 3.07], "nice": false}, "axis": null},
          "x2": {"datum": 2.877e-4},
          "y": {"datum": 1.151e19, "type": "quantitative", "scale": {"type": "log", "domain": [1.56e15, 1.46e19], "nice": false}, "axis": null},
          "y2": {"datum": 4.94e18}
        }
      },
      {
        "data": {"name": "lab1"},
        "mark": {"type": "text", "fontSize": 22.5, "font": "DejaVu Sans", "color": "#000000", "align": "center", "baseline": "middle"},
        "encoding": {
          "x": {"datum": 1.466e-4, "type": "quantitative", "scale": {"type": "log", "domain": [5.05e-5, 3.07], "nice": false}, "axis": null},
          "y": {"datum": 7.55e18, "type": "quantitative", "scale": {"type": "log", "domain": [1.56e15, 1.46e19], "nice": false}, "axis": null},
          "text": {"field": "label"}
        }
      }
    ]
  },
  {
    "width": 534, "height": 389,
    "resolve": {"axis": {"x": "independent", "y": "independent"}},
    "layer": [
      {
        "data": {"name": "down"},
        "mark": {"type": "line", "strokeWidth": 2.5, "clip": true, "interpolate": "monotone"},
        "encoding": {
          "x": {"field": "x", "type": "quantitative", "scale": {"type": "log", "domain": [4.95e-5, 3.11], "nice": false},
            "axis": {"orient": "bottom", "values": [5e-5,6e-5,7e-5,8e-5,9e-5,1e-4,2e-4,3e-4,4e-4,5e-4,6e-4,7e-4,8e-4,9e-4,1e-3,2e-3,3e-3,4e-3,5e-3,6e-3,7e-3,8e-3,9e-3,0.01,0.02,0.03,0.04,0.05,0.06,0.07,0.08,0.09,0.1,0.2,0.3,0.4,0.5,0.6,0.7,0.8,0.9,1,2,3],
              "labelExpr": "abs(log(datum.value)/LN10+4)<0.01?'10⁻⁴':abs(log(datum.value)/LN10+3)<0.01?'10⁻³':abs(log(datum.value)/LN10+2)<0.01?'10⁻²':abs(log(datum.value)/LN10+1)<0.01?'10⁻¹':abs(log(datum.value)/LN10)<0.01?'10⁰':''",
              "title": "ε [hν/mₑc²]", "titleFontStyle": "italic", "titleFontSize": 23, "titlePadding": 9,
              "grid": true, "gridColor": {"condition": {"test": "abs(log(datum.value)/LN10-round(log(datum.value)/LN10))<0.001", "value": "#d4d4d4"}, "value": "#ebebeb"}, "gridWidth": 0.8,
              "tickSize": {"condition": {"test": "abs(log(datum.value)/LN10-round(log(datum.value)/LN10))<0.001", "value": 4.5}, "value": 2.5},
              "tickWidth": 1.2, "labelOverlap": false, "labelFlush": false, "labelPadding": 4}},
          "y": {"field": "y", "type": "quantitative", "scale": {"type": "log", "domain": [2.02e16, 1.89e20], "nice": false},
            "axis": {"orient": "left", "values": [3e16,4e16,5e16,6e16,7e16,8e16,9e16,1e17,2e17,3e17,4e17,5e17,6e17,7e17,8e17,9e17,1e18,2e18,3e18,4e18,5e18,6e18,7e18,8e18,9e18,1e19,2e19,3e19,4e19,5e19,6e19,7e19,8e19,9e19,1e20],
              "labelExpr": "abs(log(datum.value)/LN10-16)<0.01?'10¹⁶':abs(log(datum.value)/LN10-17)<0.01?'10¹⁷':abs(log(datum.value)/LN10-18)<0.01?'10¹⁸':abs(log(datum.value)/LN10-19)<0.01?'10¹⁹':abs(log(datum.value)/LN10-20)<0.01?'10²⁰':''",
              "title": "νFᵥ [arb. units]", "titlePadding": 8,
              "grid": true, "gridColor": {"condition": {"test": "abs(log(datum.value)/LN10-round(log(datum.value)/LN10))<0.001", "value": "#d4d4d4"}, "value": "#ebebeb"}, "gridWidth": 0.8,
              "tickSize": {"condition": {"test": "abs(log(datum.value)/LN10-round(log(datum.value)/LN10))<0.001", "value": 4.5}, "value": 2.5},
              "tickWidth": 1.2, "labelOverlap": false, "labelFlush": false, "labelPadding": 4}},
          "color": {"field": "c", "type": "nominal", "legend": null,
            "scale": {"domain": ["G1","G2","G3","G4","G5","G6","G7","G8","G9"], "range": ["#1c441c","#1d521d","#1e621e","#1f741f","#1f891f","#1fa01f","#1fb81f","#20cf20","#24e624"]}}
        }
      },
      {
        "data": {"name": "down"},
        "mark": {"type": "point", "opacity": 0},
        "encoding": {
          "x": {"field": "x", "type": "quantitative", "scale": {"type": "log", "domain": [4.95e-5, 3.11], "nice": false}, "axis": null},
          "y": {"field": "y", "type": "quantitative", "scale": {"type": "log", "domain": [2.02e16, 1.89e20], "nice": false},
            "axis": {"orient": "right", "values": [3e16,4e16,5e16,6e16,7e16,8e16,9e16,1e17,2e17,3e17,4e17,5e17,6e17,7e17,8e17,9e17,1e18,2e18,3e18,4e18,5e18,6e18,7e18,8e18,9e18,1e19,2e19,3e19,4e19,5e19,6e19,7e19,8e19,9e19,1e20],
              "labels": false, "title": null, "grid": false,
              "tickSize": {"condition": {"test": "abs(log(datum.value)/LN10-round(log(datum.value)/LN10))<0.001", "value": 4.5}, "value": 2.5},
              "tickWidth": 1.2}}
        }
      },
      {
        "data": {"name": "lab2"},
        "mark": {"type": "rect", "fill": "#ffffff", "stroke": "#8a8a8a", "strokeWidth": 1, "cornerRadius": 5},
        "encoding": {
          "x": {"datum": 7.8e-5, "type": "quantitative", "scale": {"type": "log", "domain": [4.95e-5, 3.11], "nice": false}, "axis": null},
          "x2": {"datum": 2.08e-3},
          "y": {"datum": 1.49e20, "type": "quantitative", "scale": {"type": "log", "domain": [2.02e16, 1.89e20], "nice": false}, "axis": null},
          "y2": {"datum": 6.4e19}
        }
      },
      {
        "data": {"name": "lab2"},
        "mark": {"type": "text", "fontSize": 22.5, "font": "DejaVu Sans", "color": "#000000", "align": "center", "baseline": "middle"},
        "encoding": {
          "x": {"datum": 4.03e-4, "type": "quantitative", "scale": {"type": "log", "domain": [4.95e-5, 3.11], "nice": false}, "axis": null},
          "y": {"datum": 9.77e19, "type": "quantitative", "scale": {"type": "log", "domain": [2.02e16, 1.89e20], "nice": false}, "axis": null},
          "text": {"field": "label"}
        }
      }
    ]
  }
]
}
